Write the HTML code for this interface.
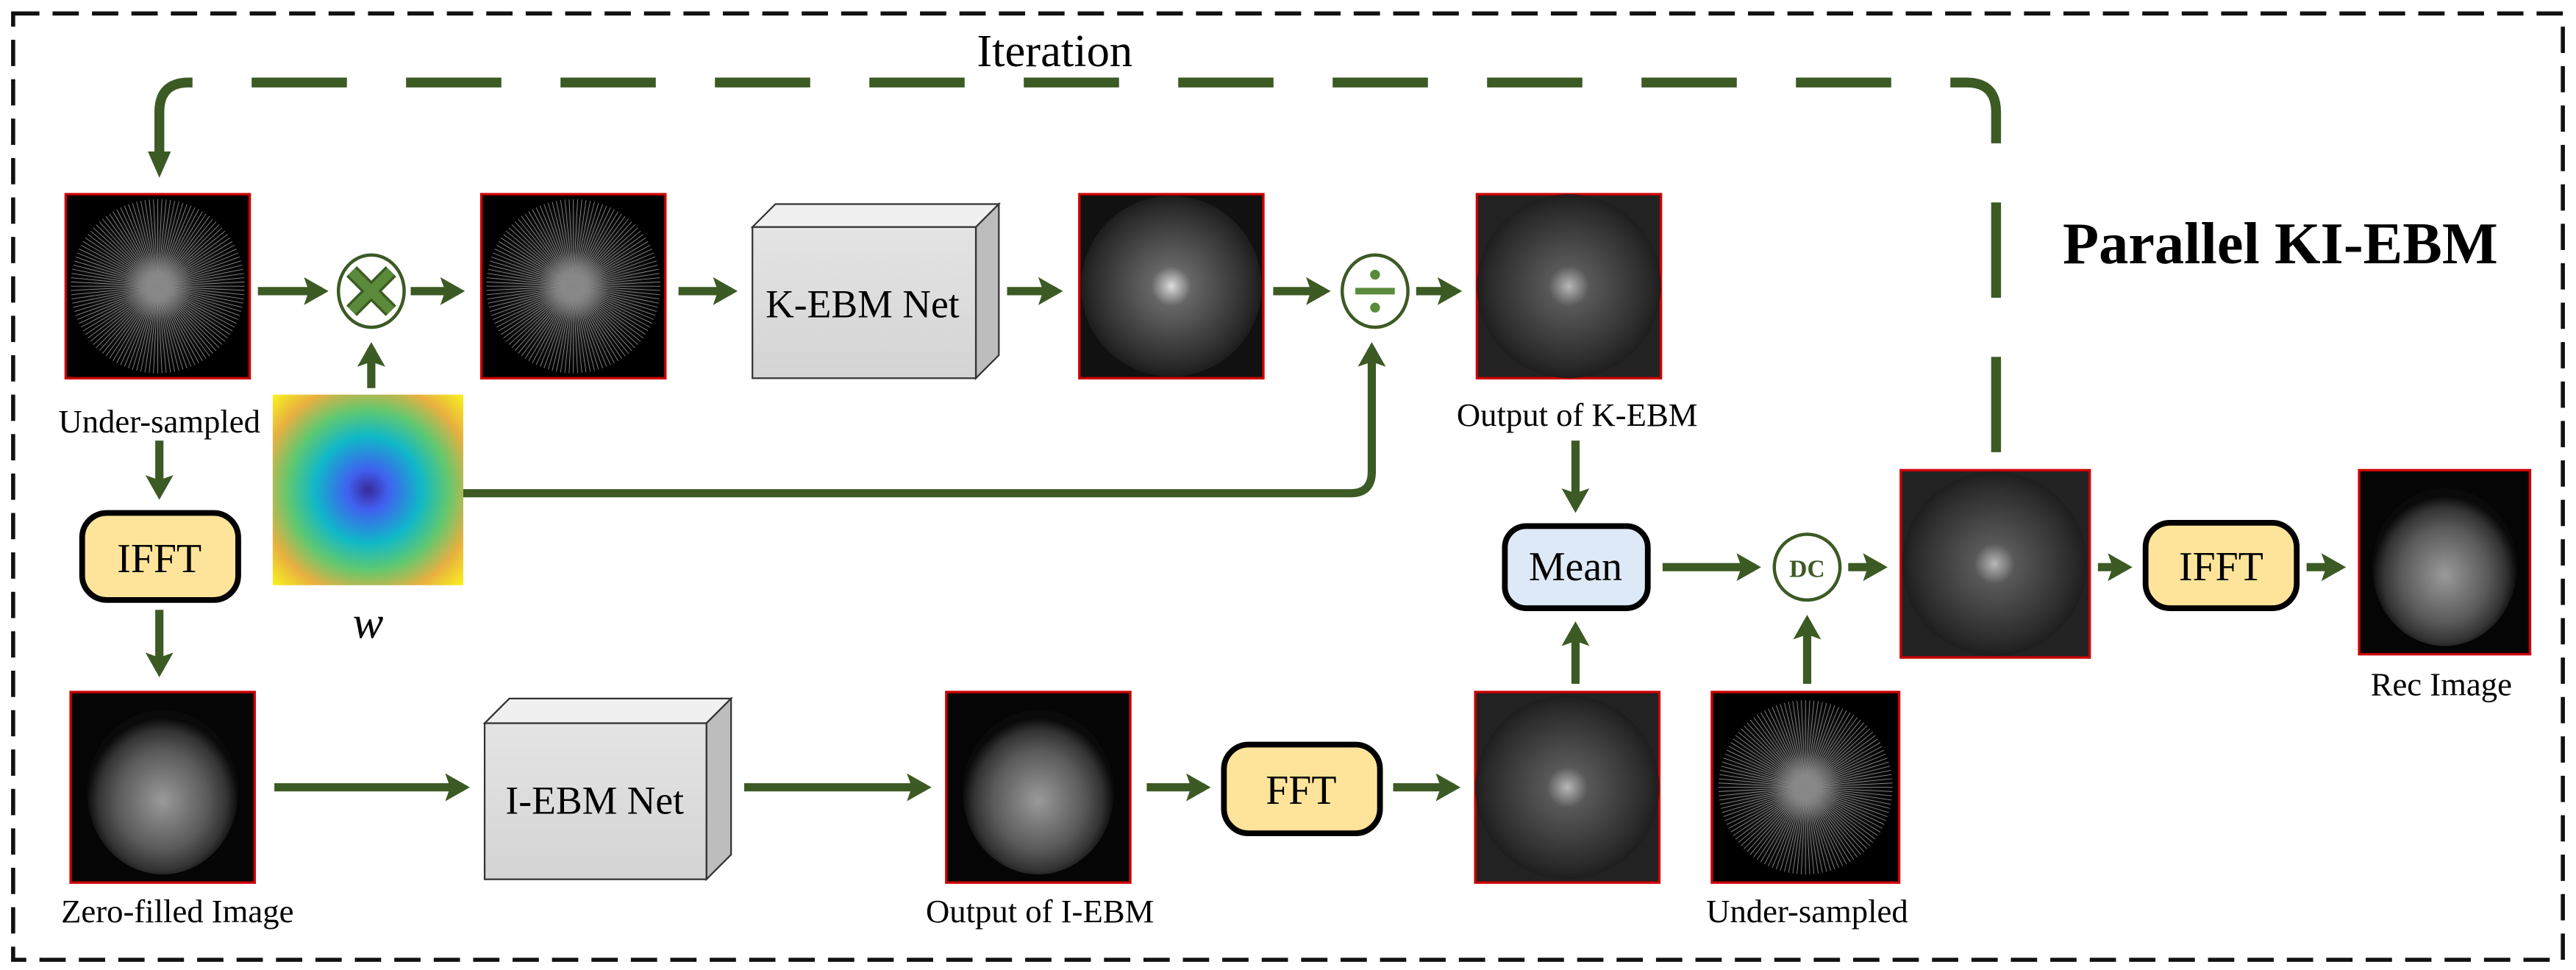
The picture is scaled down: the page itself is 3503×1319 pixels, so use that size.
<!DOCTYPE html>
<html><head><meta charset="utf-8"><style>
html,body{margin:0;padding:0;background:#fff;}
svg{display:block;font-family:"Liberation Serif",serif;}
</style></head><body>
<svg id="s" width="3503" height="1319" viewBox="0 0 1568 590" xmlns="http://www.w3.org/2000/svg" font-family="'Liberation Serif', serif">
<defs>
<marker id="ah" markerWidth="4" markerHeight="4" refX="2.2" refY="2" orient="auto" markerUnits="strokeWidth"><path d="M0,0.3 L3,2 L0,3.7 L0.6,2 Z" fill="#3c5a24"/></marker>
<radialGradient id="ks" cx="50%" cy="50%" r="50%"><stop offset="0" stop-color="#eee"/><stop offset="0.15" stop-color="#777"/><stop offset="0.4" stop-color="#222"/><stop offset="1" stop-color="#000"/></radialGradient>
<radialGradient id="kf" cx="50%" cy="50%" r="55%"><stop offset="0" stop-color="#ddd"/><stop offset="0.2" stop-color="#666"/><stop offset="0.8" stop-color="#2a2a2a"/><stop offset="1" stop-color="#111"/></radialGradient>
<radialGradient id="wg" cx="50%" cy="50%" r="70%"><stop offset="0" stop-color="#3a2a9a"/><stop offset="0.15" stop-color="#4060f0"/><stop offset="0.4" stop-color="#10b8c8"/><stop offset="0.6" stop-color="#60c870"/><stop offset="0.8" stop-color="#e8b040"/><stop offset="1" stop-color="#f8f020"/></radialGradient>
<radialGradient id="br" cx="50%" cy="55%" r="50%"><stop offset="0" stop-color="#9a9a9a"/><stop offset="0.6" stop-color="#5a5a5a"/><stop offset="0.85" stop-color="#333"/><stop offset="1" stop-color="#0a0a0a"/></radialGradient>
<linearGradient id="cubeF" x1="0" y1="0" x2="0" y2="1"><stop offset="0" stop-color="#e4e4e4"/><stop offset="1" stop-color="#d4d4d4"/></linearGradient>
</defs>

<rect x="8" y="8" width="1552" height="576" fill="none" stroke="#111" stroke-width="2.5" stroke-dasharray="16 8"/>

<path d="M1215,275 L1215,68 Q1215,50 1197,50 L115,50 Q97,50 97,68 L97,100" fill="none" stroke="#3c5a24" stroke-width="6" stroke-dasharray="58 36"/>
<path d="M90,92 L97,108 L104,92 Z" fill="#3c5a24"/>
<text x="642" y="40" font-size="28" text-anchor="middle">Iteration</text>
<text x="1388" y="160" font-size="36" font-weight="bold" text-anchor="middle">Parallel KI-EBM</text>

<g stroke="#c00" stroke-width="1.5">
<rect x="40" y="118" width="112" height="112" fill="#000"/>
<circle cx="96" cy="174" r="54" fill="url(#ks)" stroke="none" opacity="0.9"/>
<g id="sp1" stroke="#888" stroke-width="0.4"></g>
<rect x="293" y="118" width="112" height="112" fill="#000"/>
<circle cx="349" cy="174" r="54" fill="url(#ks)" stroke="none"/>
<g id="sp2" stroke="#888" stroke-width="0.4"></g>
<rect x="657" y="118" width="112" height="112" fill="#111"/>
<circle cx="713" cy="174" r="55" fill="url(#kf)" stroke="none"/>
<rect x="899" y="118" width="112" height="112" fill="#222"/>
<circle cx="955" cy="174" r="56" fill="url(#kf)" stroke="none" opacity="0.8"/>
<rect x="43" y="421" width="112" height="116" fill="#050505"/>
<ellipse cx="99" cy="482" rx="46" ry="50" fill="url(#br)" stroke="none"/>
<rect x="576" y="421" width="112" height="116" fill="#050505"/>
<ellipse cx="632" cy="482" rx="46" ry="50" fill="url(#br)" stroke="none"/>
<rect x="898" y="421" width="112" height="116" fill="#222"/>
<circle cx="954" cy="479" r="56" fill="url(#kf)" stroke="none" opacity="0.8"/>
<rect x="1042" y="421" width="114" height="116" fill="#000"/>
<circle cx="1099" cy="479" r="55" fill="url(#ks)" stroke="none" opacity="0.9"/>
<g id="sp3" stroke="#888" stroke-width="0.4"></g>
<rect x="1157" y="286" width="115" height="114" fill="#222"/>
<circle cx="1214" cy="343" r="56" fill="url(#kf)" stroke="none" opacity="0.8"/>
<rect x="1436" y="286" width="104" height="112" fill="#050505"/>
<ellipse cx="1488" cy="345" rx="44" ry="48" fill="url(#br)" stroke="none"/>
</g>
<rect x="166" y="240" width="116" height="116" fill="url(#wg)"/>

<g font-size="20" text-anchor="middle">
<text x="97" y="263">Under-sampled</text>
<text x="224" y="388" font-size="28" font-style="italic">w</text>
<text x="960" y="259">Output of K-EBM</text>
<text x="108" y="561">Zero-filled Image</text>
<text x="633" y="561">Output of I-EBM</text>
<text x="1100" y="561">Under-sampled</text>
<text x="1486" y="423">Rec Image</text>
</g>

<g>
<path d="M458,138 L472,124 L608,124 L594,138 Z" fill="#f0f0f0" stroke="#333" stroke-width="1"/>
<path d="M594,138 L608,124 L608,216 L594,230 Z" fill="#bdbdbd" stroke="#333" stroke-width="1"/>
<rect x="458" y="138" width="136" height="92" fill="url(#cubeF)" stroke="#333" stroke-width="1"/>
<text x="525" y="193" font-size="24" text-anchor="middle">K-EBM Net</text>
</g>
<g>
<path d="M295,440 L310,425 L445,425 L430,440 Z" fill="#f0f0f0" stroke="#333" stroke-width="1"/>
<path d="M430,440 L445,425 L445,520 L430,535 Z" fill="#bdbdbd" stroke="#333" stroke-width="1"/>
<rect x="295" y="440" width="135" height="95" fill="url(#cubeF)" stroke="#333" stroke-width="1"/>
<text x="362" y="495" font-size="24" text-anchor="middle">I-EBM Net</text>
</g>

<g stroke="#000" stroke-width="3.5">
<rect x="50" y="312" width="95" height="53" rx="15" fill="#fde49a"/>
<rect x="745" y="453" width="95" height="54" rx="15" fill="#fde49a"/>
<rect x="1306" y="318" width="92" height="52" rx="15" fill="#fde49a"/>
<rect x="916" y="320" width="87" height="50" rx="13" fill="#dde9f6"/>
</g>
<g font-size="25" text-anchor="middle">
<text x="97" y="348">IFFT</text><text x="792" y="489">FFT</text><text x="1352" y="353">IFFT</text><text x="959" y="353">Mean</text>
</g>

<g>
<ellipse cx="226" cy="177" rx="20" ry="22" fill="#fff" stroke="#3c5a24" stroke-width="2"/>
<path d="M214,165 L238,189 M238,165 L214,189" stroke="#3c5a24" stroke-width="9"/>
<path d="M214,165 L238,189 M238,165 L214,189" stroke="#5a8a3a" stroke-width="6"/>
</g>
<g>
<ellipse cx="837" cy="177" rx="20" ry="22" fill="#fff" stroke="#3c5a24" stroke-width="2"/>
<rect x="825" y="175" width="24" height="4" fill="#5a8a3a"/>
<circle cx="837" cy="167" r="3" fill="#5a8a3a"/><circle cx="837" cy="187" r="3" fill="#5a8a3a"/>
</g>
<g>
<circle cx="1100" cy="345" r="20" fill="#fff" stroke="#3c5a24" stroke-width="2"/>
<text x="1100" y="351" font-size="15" font-weight="bold" fill="#3c5a24" text-anchor="middle">DC</text>
</g>

<g stroke="#3c5a24" stroke-width="5" fill="none" marker-end="url(#ah)">
<path d="M157,177 L196,177"/>
<path d="M250,177 L279,177"/>
<path d="M226,236 L226,212"/>
<path d="M413,177 L445,177"/>
<path d="M613,177 L643,177"/>
<path d="M775,177 L806,177"/>
<path d="M862,177 L886,177"/>
<path d="M282,300 L822,300 Q835,300 835,287 L835,212" />
<path d="M97,268 L97,300"/>
<path d="M97,371 L97,408"/>
<path d="M167,479 L282,479"/>
<path d="M453,479 L563,479"/>
<path d="M698,479 L733,479"/>
<path d="M848,479 L885,479"/>
<path d="M959,416 L959,382"/>
<path d="M959,268 L959,308"/>
<path d="M1012,345 L1068,345"/>
<path d="M1100,416 L1100,378"/>
<path d="M1125,345 L1145,345"/>
<path d="M1277,345 L1294,345"/>
<path d="M1404,345 L1424,345"/>
</g>
<script>
[["sp1",96,174],["sp2",349,174],["sp3",1099,479]].forEach(function(a){
  var g=document.getElementById(a[0]);
  for(var i=0;i<64;i++){
    var t=i*Math.PI/64;
    var l=document.createElementNS("http://www.w3.org/2000/svg","line");
    
    
    l.setAttribute("x1",a[1]-53*Math.cos(t));l.setAttribute("y1",a[2]-53*Math.sin(t));
    l.setAttribute("x2",a[1]+53*Math.cos(t));l.setAttribute("y2",a[2]+53*Math.sin(t));
    g.appendChild(l);
  }
});
</script>
</svg>
</body></html>
